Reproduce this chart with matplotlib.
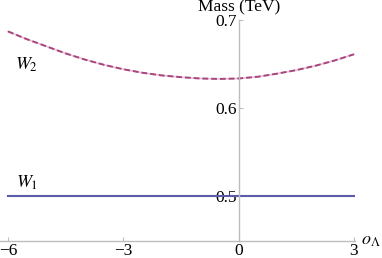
import numpy as np
import matplotlib.pyplot as plt

plt.rcParams['font.family'] = ['Liberation Serif', 'DejaVu Serif']
plt.rcParams['mathtext.fontset'] = 'stix'

# 数据
o_lambda = [-6, -5.5, -5, -4.5, -4, -3.5, -3, -2.5, -2, -1.5, -1, -0.5,
            0, 0.5, 1, 1.5, 2, 2.5, 3]
mass_w2 = [0.687, 0.678, 0.670, 0.662, 0.655, 0.649, 0.644, 0.640, 0.637,
           0.635, 0.6335, 0.633, 0.6335, 0.6355, 0.639, 0.643, 0.648, 0.654, 0.661]
mass_w1 = [0.5] * len(o_lambda)
xticks = [-6, -3, 0, 3]
yticks = [0.5, 0.6, 0.7]

fig = plt.figure(figsize=(3.82, 2.58), dpi=100)
ax = fig.add_axes([0, 0, 1, 1])
ax.set_xlim(-6.208, 3.73)
ax.set_ylim(0.4295, 0.7227)

ax.plot(o_lambda, mass_w2, color='#e8c3d8', lw=1.2)
ax.plot(o_lambda, mass_w2, color='#a8457f', lw=1.4, ls=(0, (3, 1.5)))
ax.plot(o_lambda, mass_w1, color='#5b5ba8', lw=1.5)

# 坐标轴（Mathematica 风格）
x_axis_y = 0.449
for s in ['top', 'right']:
    ax.spines[s].set_visible(False)
ax.spines['left'].set_position(('data', 0))
ax.spines['bottom'].set_position(('data', x_axis_y))
ax.spines['left'].set_bounds(x_axis_y, 0.7)
ax.spines['bottom'].set_bounds(-6.2, 3.02)
for s in ['left', 'bottom']:
    ax.spines[s].set_color('#bdbdbd')
    ax.spines[s].set_linewidth(1.0)
ax.set_xticks(xticks)
ax.set_xticklabels(['\u22126', '\u22123', '0', '3'])
ax.set_yticks(yticks)
ax.set_yticklabels(['0.5', '0.6', '0.7'])
ax.tick_params(direction='in', length=3, color='#bdbdbd', labelsize=12.5, pad=1.5)
ax.tick_params(axis='y', pad=1.5)
ax.patch.set_visible(False)

ax.text(0, 0.7148, 'Mass (TeV)', ha='center', va='center', fontsize=12.5)
ax.text(3.45, x_axis_y, r'$o_\Lambda$', ha='center', va='center', fontsize=13)
ax.text(-5.51, 0.649, r'$W_2$', ha='center', va='center', fontsize=13)
ax.text(-5.51, 0.515, r'$W_1$', ha='center', va='center', fontsize=13)

fig.savefig('out.png', dpi=100)
